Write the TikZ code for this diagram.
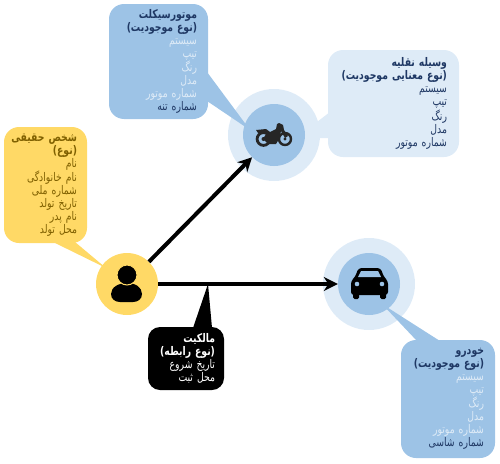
\documentclass[tikz,border=0pt]{standalone}
\usepackage{fontspec}
\usetikzlibrary{arrows.meta,backgrounds}
\TeXXeTstate=1
\newfontfamily\fafont[Script=Arabic,FakeStretch=0.78]{DejaVu Sans}
\definecolor{midblue}{HTML}{9DC3E6}
\definecolor{paleblue}{HTML}{DEEBF7}
\definecolor{sun}{HTML}{FFD966}
\definecolor{navy}{HTML}{1F3864}
\definecolor{ochre}{HTML}{7F6000}
\definecolor{moto}{HTML}{262626}
\newcommand{\rl}[1]{\beginR #1\endR}
\newcommand{\hd}[1]{\leavevmode\llap{\bfseries\beginR #1\endR}}
\newcommand{\pl}[1]{\textcolor{paleblue}{\beginR #1\endR}}
\tikzset{
 x=1pt,y=-1pt,
 infobox/.style={rounded corners=15pt,inner ysep=0pt,inner xsep=0pt,align=right,font=\fafont\fontsize{11.9}{13}\selectfont,anchor=center},
 hub/.style={circle,minimum size=62pt,inner sep=0pt},
 halo/.style={circle,minimum size=92pt,inner sep=0pt,fill=paleblue},
 link/.style={line width=4pt,-{Stealth[length=14pt,width=14pt]},black},
}
\begin{document}
\begin{tikzpicture}
\useasboundingbox (0,0) rectangle (500,463);
\node[hub,fill=sun] (person) at (127,284) {};
\node[hub,fill=midblue] (bike) at (274,135) {};
\node[hub,fill=midblue] (car) at (369,284) {};
\node[infobox,fill=midblue,text=navy,minimum width=99pt,minimum height=115pt,text width=77pt] (biketext) at (158.5,61.5) {\hd{موتورسیکلت}\\\hd{(نوع موجودیت)}\\\pl{سیستم}\\\pl{تیپ}\\\pl{رنگ}\\\pl{مدل}\\\pl{شماره موتور}\\\rl{شماره تنه}};
\node[infobox,fill=paleblue,text=navy,minimum width=131pt,minimum height=107pt,text width=107pt] (vehicle) at (393.5,103.5) {\hd{وسیله نقلیه}\\\hd{(نوع معنایی موجودیت)}\\\rl{سیستم}\\\rl{تیپ}\\\rl{رنگ}\\\rl{مدل}\\\rl{شماره موتور}};
\node[infobox,fill=sun,text=ochre,minimum width=83pt,minimum height=116pt,text width=63pt] (persontext) at (45.5,185) {\hd{شخص حقیقی}\\\hd{(نوع)}\\\rl{نام}\\\rl{نام خانوادگی}\\\rl{شماره ملی}\\\rl{تاریخ تولد}\\\rl{نام پدر}\\\rl{محل تولد}};
\node[infobox,rounded corners=12pt,fill=black,text=white,minimum width=76pt,minimum height=63pt,text width=58pt] (owner) at (186,358.5) {\hd{مالکیت}\\\hd{(نوع رابطه)}\\\rl{تاریخ شروع}\\\rl{محل ثبت}};
\node[infobox,fill=midblue,text=navy,minimum width=94pt,minimum height=118pt,text width=72pt] (cartext) at (448,399) {\hd{خودرو}\\\hd{(نوع موجودیت)}\\\pl{سیستم}\\\pl{تیپ}\\\pl{رنگ}\\\pl{مدل}\\\pl{شماره موتور}\\\rl{شماره شاسی}};
\begin{scope}[on background layer]
 \node[halo] (bikehalo) at (bike.center) {};
 \node[halo] (carhalo) at (car.center) {};
 \fill[midblue] (207,72) -- (250,130) -- (207,101) -- cycle;
 \fill[paleblue] (330,112) -- (300,135) -- (300,138) -- (330,138) -- cycle;
 \fill[sun] (53,242) -- (106,268) -- (75,242) -- cycle;
 \fill[black] (193,328) -- (208,284) -- (212,328) -- cycle;
 \fill[midblue] (417,341) -- (382,304) -- (440,341) -- cycle;
\end{scope}
\draw[link] (person) -- (bike);
\draw[link] (person) -- (car);
% person icon
\fill[black] (111,294) .. controls (111,287) and (119,283) .. (127,283) .. controls (135,283) and (142,287) .. (142,294) .. controls (142,299) and (138,302) .. (133,302) -- (120,302) .. controls (115,302) and (111,299) .. (111,294) -- cycle;
\fill[black,draw=sun,line width=1pt] (127,275) circle (10);
% bike icon
\begin{scope}[moto]
 \draw[moto,line width=2.8pt] (263.5,139) circle (6.4);
 \fill (263.5,139) circle (2);
 \draw[moto,line width=2.4pt] (285,139) circle (6);
 \fill (285,139) circle (1.6);
 \fill (256,130) -- (266,129) -- (270,132) -- (276,129) -- (277,124) -- (279,123) -- (283,125) -- (284,130) -- (288,136) -- (285,138) -- (281,131) -- (279,139) -- (276,144) -- (268,144) -- (263,139) -- (266,134) -- (258,133) -- cycle;
\end{scope}
% car icon
\fill[black,rounded corners=3pt] (351,295) -- (351,281) -- (355,277) -- (358.5,268) -- (380.5,268) -- (384,277) -- (388,281) -- (388,295) -- cycle;
\fill[black,rounded corners=1.5pt] (353,293) rectangle (359,299);
\fill[black,rounded corners=1.5pt] (380,293) rectangle (386,299);
\fill[midblue] (358,277) -- (361,271) -- (378,271) -- (381,277) -- cycle;
\fill[midblue] (357,284) circle (2.3);
\fill[midblue] (382,284) circle (2.3);
\end{tikzpicture}
\end{document}
